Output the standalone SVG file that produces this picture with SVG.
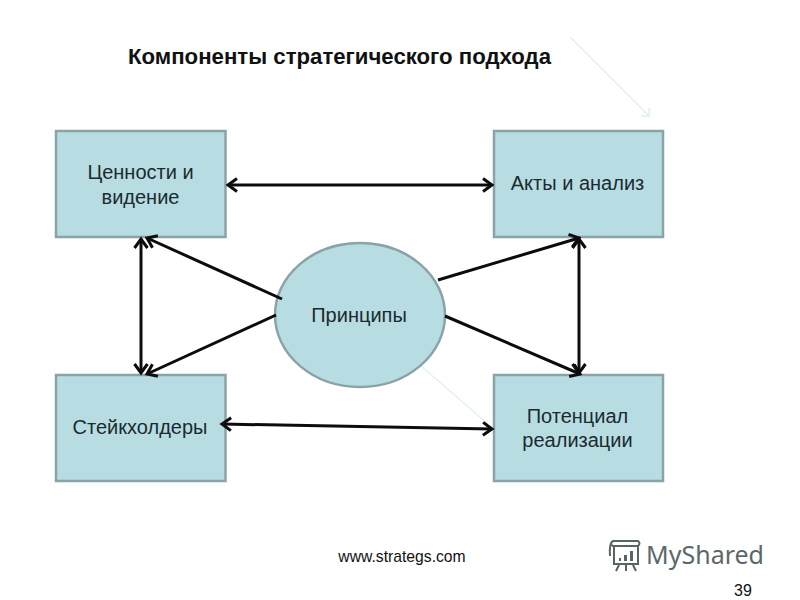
<svg xmlns="http://www.w3.org/2000/svg" width="800" height="600" viewBox="0 0 800 600">
<style>
text{font-family:"Liberation Sans",Arial,sans-serif;fill:#1c2a30;font-size:20px;text-anchor:middle}
.box{fill:#b7dde3;stroke:#8aa3a6;stroke-width:2.5}
.c{fill:none;stroke:#0c0c0c;stroke-width:3;stroke-linecap:butt}
.thin{fill:none;stroke:#cfe8e8;stroke-width:1}
.logo{fill:none;stroke:#566464;stroke-width:2}
</style>
<defs>
<marker id="a" markerUnits="userSpaceOnUse" markerWidth="18" markerHeight="18" refX="13" refY="9" orient="auto-start-reverse">
<path d="M4 2.5 L13 9 L4 15.5" fill="none" stroke="#0c0c0c" stroke-width="3"/>
</marker>
</defs>
<rect width="800" height="600" fill="#fff"/>
<text id="title" x="339.500" y="64" style="font-size:22.200px;font-weight:bold;fill:#111">Компоненты стратегического подхода</text>
<g id="thin-connectors">
<path class="thin" d="M570 37 L649 116 M649 108 L649 116 L641 116"/>
<path class="thin" d="M421 366 L488 424"/>
</g>
<g id="values"><rect class="box" x="56" y="131" width="169.500" height="106"/><text x="140.500" y="179">Ценности и</text><text x="140.500" y="204">видение</text></g>
<g id="acts"><rect class="box" x="494" y="131" width="169" height="106"/><text x="577.500" y="190">Акты и анализ</text></g>
<g id="stakeholders"><rect class="box" x="56" y="375" width="169.500" height="106"/><text x="140" y="434">Стейкхолдеры</text></g>
<g id="potential"><rect class="box" x="494" y="375" width="169" height="106"/><text x="577.500" y="423">Потенциал</text><text x="577.500" y="447">реализации</text></g>
<g id="principles"><ellipse cx="360" cy="315" rx="85" ry="72" style="fill:#b7dde3;stroke:#8aa3a6;stroke-width:2.5"/><text x="359" y="322">Принципы</text></g>
<g id="connectors">
<path class="c" marker-start="url(#a)" marker-end="url(#a)" d="M228 185 H492"/>
<path class="c" marker-start="url(#a)" marker-end="url(#a)" d="M141 239 V373"/>
<path class="c" marker-start="url(#a)" marker-end="url(#a)" d="M579 239 V373"/>
<path class="c" marker-start="url(#a)" marker-end="url(#a)" d="M222 424 L492 429"/>
<path class="c" marker-end="url(#a)" d="M282 299 L147 238"/>
<path class="c" marker-end="url(#a)" d="M276 315 L147 374"/>
<path class="c" marker-end="url(#a)" d="M438 280 L579 238"/>
<path class="c" marker-end="url(#a)" d="M445 316 L580 374"/>
</g>
<text id="url" x="402" y="562" style="font-size:15.700px;fill:#111">www.strategs.com</text>
<g id="logo">
<path class="logo" d="M613 541 H638 Q641 543 638 546 H613 Q609 544 613 541 Z M613 541 Q609 543 610 556"/>
<rect class="logo" x="614" y="546" width="24" height="18"/>
<path d="M619 558h2v3h-2zM624 555h3v6h-3zM630 551h3v10h-3z" fill="#566464"/>
<path class="logo" d="M619 565 L616 571 M626 565 V571 M633 565 L636 571"/>
<text x="705" y="564" style="font-family:'Noto Sans',sans-serif;font-size:25px;fill:#5c6868">MyShared</text>
</g>
<text id="page" x="743" y="596" style="font-size:16px;fill:#111">39</text>
</svg>
